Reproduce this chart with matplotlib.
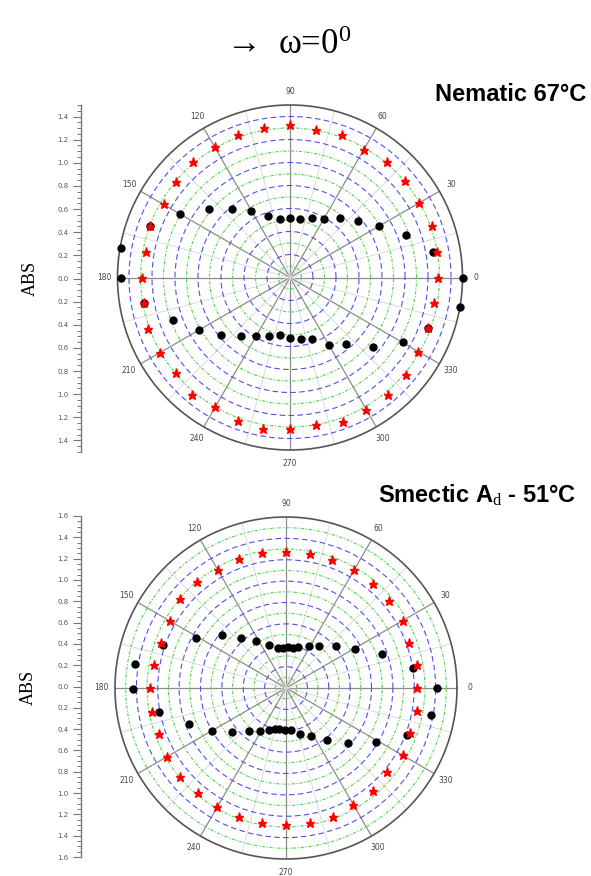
import numpy as np
import matplotlib
matplotlib.use("Agg")
import matplotlib.pyplot as plt
from matplotlib.ticker import MultipleLocator, FuncFormatter

plt.rcParams['mathtext.fontset'] = 'custom'
plt.rcParams['mathtext.rm'] = 'Liberation Serif'
plt.rcParams['mathtext.it'] = 'Liberation Serif:italic'
plt.rcParams['mathtext.bf'] = 'Liberation Serif:bold'

W, H = 591, 876

# polarizer angle of every reading, degrees
angles = np.arange(0, 360, 10)

# Nematic 67 C
nem_dot_r = [1.50, 1.26, 1.07, 0.89, 0.77, 0.68, 0.59, 0.55, 0.52, 0.52,
             0.52, 0.57, 0.67, 0.78, 0.92, 1.10, 1.30, 1.49, 1.47, 1.29,
             1.08, 0.91, 0.78, 0.66, 0.59, 0.54, 0.51, 0.53, 0.54, 0.57,
             0.68, 0.76, 0.94, 1.13, 1.28, 1.50]
nem_star_r = [1.29, 1.30, 1.31, 1.30, 1.31, 1.31, 1.28, 1.32, 1.30, 1.33,
              1.32, 1.32, 1.31, 1.31, 1.29, 1.27, 1.30, 1.27, 1.29, 1.29,
              1.31, 1.31, 1.29, 1.33, 1.30, 1.33, 1.34, 1.32, 1.30, 1.34,
              1.33, 1.33, 1.32, 1.29, 1.28, 1.27]

# Smectic Ad 51 C
sm_dot_ang = [0, 9, 19.5, 29.2, 40, 51.4, 61.5, 73.7, 80.4, 87.4, 94.5, 101.5,
              111.8, 122.4, 131.7, 140.6, 151, 160.8, 170.8, 180.5, 190.6,
              200.5, 210.2, 219.6, 229.7, 239, 248.2, 254.4, 261, 268, 277,
              287, 297.4, 308, 318.5, 329.2, 338.9, 349.4]
sm_dot_r = [1.41, 1.20, 0.95, 0.74, 0.61, 0.50, 0.45, 0.40, 0.38, 0.38, 0.38,
            0.385, 0.43, 0.52, 0.63, 0.78, 0.96, 1.22, 1.43, 1.43, 1.21,
            0.97, 0.80, 0.65, 0.53, 0.47, 0.42, 0.40, 0.39, 0.39, 0.40,
            0.45, 0.51, 0.62, 0.77, 0.98, 1.21, 1.38]
sm_star_r = [1.23, 1.24, 1.22, 1.26, 1.26, 1.27, 1.27, 1.27, 1.27, 1.27,
             1.28, 1.28, 1.28, 1.29, 1.29, 1.25, 1.24, 1.25, 1.27, 1.27,
             1.26, 1.29, 1.29, 1.28, 1.29, 1.28, 1.28, 1.28, 1.28, 1.28,
             1.26, 1.26, 1.23, 1.26, 1.23, 1.24]

spoke_deg = np.arange(0, 360, 30)


def px_rect(x0, y0, x1, y1):
    # pixel box (top-left origin) -> figure fraction rect
    return [x0 / W, 1 - y1 / H, (x1 - x0) / W, (y1 - y0) / H]


def polar_panel(fig, rect, rmax, dot_t, dot_r, star_t, star_r):
    ax = fig.add_axes(rect, projection='polar')
    ax.set_ylim(0, rmax)

    ax.set_xticks(np.deg2rad(spoke_deg))
    ax.set_xticklabels([str(a) for a in spoke_deg])
    ax.set_xticks(np.deg2rad(spoke_deg + 15), minor=True)
    ax.xaxis.grid(True, which='major', color='#8c8c8c', lw=0.9, ls='-')
    ax.xaxis.grid(True, which='minor', color='#d6d6d6', lw=0.6, ls='-')
    ax.tick_params(axis='x', which='both', length=0, labelsize=5.5,
                   labelcolor='#444444', pad=2.5)

    rings = np.round(np.arange(0.1, rmax - 0.01, 0.1), 2)
    ax.set_yticks(rings)
    ax.set_yticklabels([])
    ax.yaxis.grid(True)
    for r, tk in zip(rings, ax.yaxis.get_major_ticks(len(rings))):
        if int(round(r * 10)) % 2 == 0:
            tk.gridline.set(color='#4f4ff0', ls=(0, (5, 3)), lw=0.8)
        else:
            tk.gridline.set(color='#4fd64f', ls=(0, (3, 1.5, 1, 1.5)), lw=0.8)
    ax.tick_params(axis='y', length=0)

    ax.spines['polar'].set_color('#555555')
    ax.spines['polar'].set_linewidth(1.2)

    ax.plot(np.deg2rad(dot_t), dot_r, 'o', color='black', ms=5,
            clip_on=False, zorder=5)
    ax.plot(np.deg2rad(star_t), star_r, '*', color='red', mec='red',
            ms=6.5, clip_on=False, zorder=6)
    return ax


def abs_axis(fig, rect, rmax):
    ab = fig.add_axes(rect)
    ab.patch.set_visible(False)
    ab.set_ylim(-rmax, rmax)
    for s in ('top', 'right', 'bottom'):
        ab.spines[s].set_visible(False)
    ab.spines['left'].set_color('#777777')
    ab.spines['left'].set_linewidth(1.0)
    ab.set_xticks([])
    ab.yaxis.set_major_locator(MultipleLocator(0.2))
    ab.yaxis.set_minor_locator(MultipleLocator(0.05))
    ab.yaxis.set_major_formatter(FuncFormatter(lambda v, p: f"{abs(v):.1f}"))
    ab.tick_params(axis='y', which='major', length=6, width=0.8,
                   color='#777777', labelsize=5, labelcolor='#555555', pad=3)
    ab.tick_params(axis='y', which='minor', length=3, width=0.7,
                   color='#777777')
    return ab


fig = plt.figure(figsize=(W / 100, H / 100), dpi=100)
fig.patch.set_facecolor('white')

# top panel: Nematic
polar_panel(fig, px_rect(117, 105, 463, 450), 1.5,
            angles, nem_dot_r, angles, nem_star_r)
abs_axis(fig, px_rect(81, 105, 82, 452), 1.5)

# bottom panel: Smectic Ad
polar_panel(fig, px_rect(115, 517, 457, 859), 1.6,
            sm_dot_ang, sm_dot_r, angles, sm_star_r)
abs_axis(fig, px_rect(81, 516, 82, 857), 1.6)

serif = ['Liberation Serif', 'DejaVu Serif']
sans = ['Liberation Sans', 'DejaVu Sans']

fig.text(289 / W, 1 - 54 / H, "\u2192  \u03c9=0$^0$", ha='center',
         va='baseline', fontsize=25, family=serif)

fig.text(586 / W, 1 - 101 / H, "Nematic 67\u00b0C", ha='right',
         va='baseline', fontsize=17, fontweight='bold', family=sans)
fig.text(378 / W, 1 - 503 / H, "Smectic A$_{\\mathrm{d}}$ - 51\u00b0C",
         ha='left', va='baseline', fontsize=17, fontweight='bold',
         family=sans)

fig.text(30 / W, 1 - 278 / H, "ABS", rotation=90, ha='center', va='center',
         fontsize=13, family=serif)
fig.text(28 / W, 1 - 687 / H, "ABS", rotation=90, ha='center', va='center',
         fontsize=13, family=serif)

fig.savefig("out.png", dpi=100, facecolor='white')
